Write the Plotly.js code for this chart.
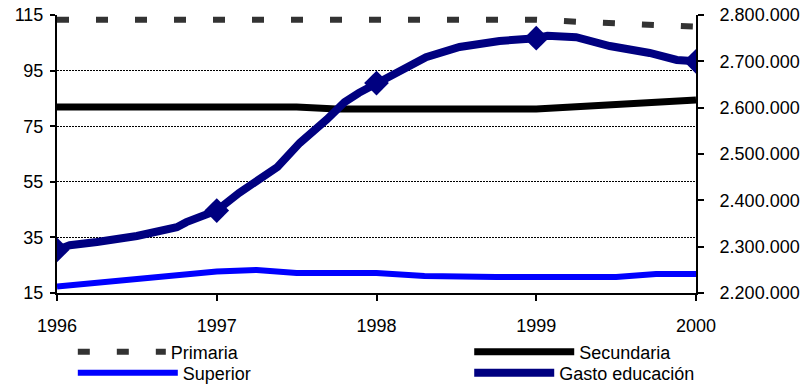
<!DOCTYPE html>
<html>
<head>
<meta charset="utf-8">
<script src="https://cdn.plot.ly/plotly-3.0.1.min.js"></script>
<style>
  html, body { margin: 0; padding: 0; background: #fff; }
  #chart { width: 809px; height: 387px; }
</style>
</head>
<body>
<div id="chart"></div>
<script>
// Matrícula (índices) por nivel y gasto en educación, 1996-2000
const yearTicks = [1996, 1997, 1998, 1999, 2000];

const primariaX = [1996, 1999, 1999.25, 1999.5, 1999.75, 2000];
const primariaY = [113.3, 113.3, 112.6, 112.2, 111.4, 110.8];

const secundariaX = [1996, 1997.5, 1997.75, 1999, 2000];
const secundariaY = [81.9, 81.9, 81.2, 81.2, 84.4];

const superiorX = [1996, 1996.75, 1997, 1997.25, 1997.5, 1998, 1998.3, 1998.75, 1999.5, 1999.75, 2000];
const superiorY = [17.3, 21.5, 22.7, 23.3, 22.2, 22.2, 21.1, 20.8, 20.8, 21.8, 21.8];

const gastoX = [1996, 1996.08, 1996.25, 1996.5, 1996.75, 1996.81, 1997, 1997.14, 1997.38, 1997.52,
                1997.69, 1997.8, 1997.89, 1998, 1998.11, 1998.31, 1998.52, 1998.77, 1999,
                1999.07, 1999.25, 1999.46, 1999.71, 1999.88, 2000];
const gastoY = [2293000, 2303000, 2310000, 2323000, 2342000, 2353000, 2378000, 2416000, 2472000, 2524000,
                2575000, 2612000, 2632000, 2653000, 2675000, 2709000, 2731000, 2744000, 2750000,
                2755000, 2752000, 2733000, 2718000, 2703000, 2700000];

const FONT = 'Liberation Sans, Arial, sans-serif';

const traces = [
  {
    name: 'Primaria', x: primariaX, y: primariaY, mode: 'lines',
    line: { color: '#333333', width: 6, dash: '12px,27px' },
    legend: 'legend'
  },
  {
    name: 'Secundaria', x: secundariaX, y: secundariaY, mode: 'lines',
    line: { color: '#000000', width: 7 },
    legend: 'legend2'
  },
  {
    name: 'Superior', x: superiorX, y: superiorY, mode: 'lines',
    line: { color: '#0000ff', width: 6 },
    legend: 'legend3'
  },
  {
    name: 'Gasto educación', x: gastoX, y: gastoY, yaxis: 'y2', mode: 'lines+markers',
    line: { color: '#000080', width: 8 },
    marker: { symbol: 'diamond', color: '#000080', opacity: 1,
              line: { width: 0, color: '#000080' },
              size: gastoX.map(v => Number.isInteger(v) ? 19 : 0) },
    legend: 'legend4'
  }
];

function legendAt(x, y, w) {
  return {
    x: x, y: y, xref: 'container', yref: 'container',
    xanchor: 'left', yanchor: 'middle',
    bgcolor: 'rgba(0,0,0,0)', borderwidth: 0,
    itemwidth: w, itemclick: false, itemdoubleclick: false,
    font: { family: FONT, size: 18, color: '#000' }
  };
}

const layout = {
  width: 809, height: 387,
  margin: { l: 57, r: 113, t: 15, b: 94, autoexpand: false },
  paper_bgcolor: '#fff', plot_bgcolor: '#fff',
  separators: ',.',
  font: { family: FONT, size: 18, color: '#000' },
  showlegend: true,
  xaxis: {
    range: [1996, 2000], tickvals: yearTicks, ticktext: yearTicks.map(String),
    ticks: 'outside', ticklen: 6, tickwidth: 2, tickcolor: '#000',
    showline: true, linewidth: 2, linecolor: '#000',
    showgrid: false, zeroline: false, ticklabelstandoff: 9,
    tickfont: { family: FONT, size: 18, color: '#000' }
  },
  yaxis: {
    range: [15, 115], tick0: 15, dtick: 20,
    ticks: 'outside', ticklen: 5, tickwidth: 2, tickcolor: '#000',
    showline: true, linewidth: 2, linecolor: '#000',
    showgrid: true, gridcolor: '#000', gridwidth: 1, griddash: '2px,1px',
    zeroline: false, ticklabelstandoff: 3,
    tickfont: { family: FONT, size: 18, color: '#000' }
  },
  yaxis2: {
    overlaying: 'y', side: 'right', anchor: 'x',
    range: [2200000, 2800000], dtick: 100000, tickformat: ',d',
    ticks: 'outside', ticklen: 6, tickwidth: 2, tickcolor: '#000',
    showline: true, linewidth: 2, linecolor: '#000',
    showgrid: false, zeroline: false, ticklabelstandoff: 12,
    tickfont: { family: FONT, size: 18, color: '#000' }
  },
  yaxis3: {
    overlaying: 'y', side: 'right', anchor: 'x',
    range: [2200000, 2800000], dtick: 100000,
    ticks: 'inside', ticklen: 6, tickwidth: 2, tickcolor: '#000',
    showticklabels: false, showline: false, showgrid: false, zeroline: false
  },
  legend: legendAt(0.09, 1 - 352 / 387, 88),
  legend2: legendAt(0.58, 1 - 352 / 387, 100),
  legend3: legendAt(0.09, 1 - 373 / 387, 100),
  legend4: legendAt(0.58, 1 - 373 / 387, 80)
};

Plotly.newPlot('chart', traces, layout, { displayModeBar: false, staticPlot: true });
</script>
</body>
</html>
